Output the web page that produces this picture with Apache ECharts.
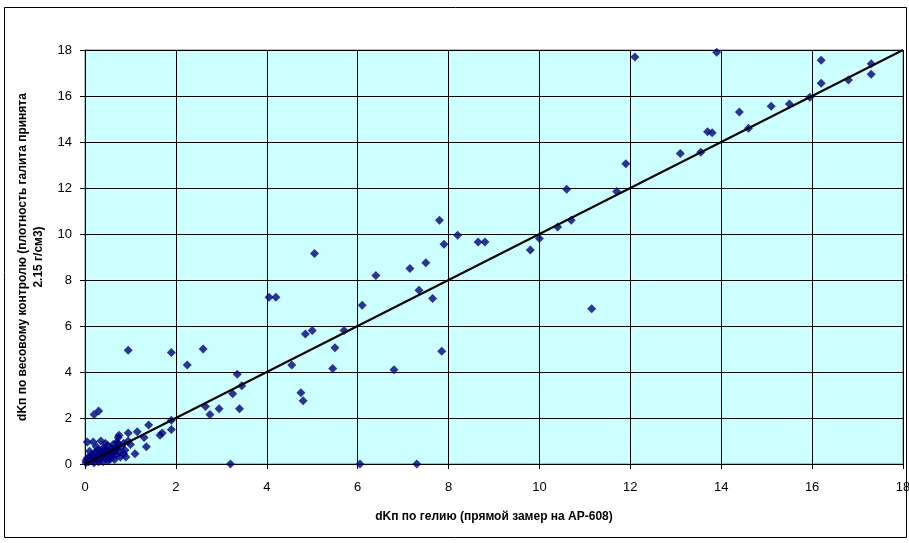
<!DOCTYPE html>
<html>
<head>
<meta charset="utf-8">
<script src="https://cdn.jsdelivr.net/npm/echarts@6/dist/echarts.min.js"></script>
<style>
  html, body { margin: 0; padding: 0; background: #fff; }
  #chart { width: 909px; height: 543px; }
</style>
</head>
<body>
<div id="chart"></div>
<script>
// dKп по гелию (x) / dKп по весовому контролю (y)
const pointsCluster = [
  [0.02, 0.15], [0.05, 0.25], [0.08, 0.1], [0.1, 0.3], [0.12, 0.2], [0.15, 0.4], [0.18, 0.15],
  [0.2, 0.35], [0.22, 0.5], [0.25, 0.25], [0.28, 0.6], [0.3, 0.4], [0.32, 0.2], [0.35, 0.55],
  [0.38, 0.3], [0.4, 0.7], [0.42, 0.45], [0.45, 0.25], [0.48, 0.6], [0.5, 0.8], [0.52, 0.35],
  [0.55, 0.5], [0.58, 0.7], [0.6, 0.3], [0.62, 0.85], [0.65, 0.55], [0.68, 0.4], [0.7, 0.65],
  [0.72, 0.9], [0.75, 0.5], [0.78, 0.3], [0.8, 0.75], [0.05, 0.96], [0.18, 0.96], [0.35, 1.0],
  [0.7, 0.96], [0.73, 1.15], [0.75, 1.25], [0.55, 0.2], [0.45, 0.9], [0.25, 0.75], [0.1, 0.55],
  [0.3, 0.1], [0.6, 0.6], [0.85, 0.9], [0.88, 0.6], [0.5, 0.15], [0.65, 0.2], [0.2, 0.05],
  [0.4, 0.1], [0.95, 1.0], [1.0, 0.85], [0.85, 0.45], [0.02, 0.05], [0.35, 0.45], [0.5, 0.55],
  [0.6, 0.45], [0.42, 0.6], [0.55, 0.35], [0.68, 0.7]
];
const pointsMain = [
  [0.9, 0.3], [1.1, 0.45], [1.35, 0.75], [1.3, 1.15], [0.95, 1.35], [1.15, 1.4], [1.4, 1.7],
  [1.65, 1.25], [1.7, 1.35], [1.9, 1.5], [1.9, 1.9], [0.2, 2.15], [0.3, 2.3],
  [0.95, 4.95], [1.9, 4.85], [2.6, 5.0], [2.25, 4.3], [2.65, 2.5], [2.95, 2.4], [2.75, 2.15],
  [3.4, 2.4], [3.25, 3.05], [3.45, 3.4], [3.35, 3.9], [3.2, 0.0],
  [4.05, 7.25], [4.2, 7.25], [4.55, 4.3], [4.75, 3.1], [4.8, 2.75], [4.85, 5.65], [5.0, 5.8],
  [5.05, 9.15], [5.45, 4.15], [5.5, 5.05], [5.7, 5.8], [6.05, 0.0], [6.1, 6.9], [6.4, 8.2],
  [6.8, 4.1], [7.15, 8.5], [7.3, 0.0], [7.35, 7.55], [7.5, 8.75], [7.65, 7.2], [7.8, 10.6],
  [7.85, 4.9], [7.9, 9.55], [8.2, 9.95], [8.65, 9.65], [8.8, 9.65],
  [9.8, 9.3], [10.0, 9.8], [10.4, 10.3], [10.6, 11.95], [10.7, 10.6], [11.15, 6.75],
  [11.7, 11.85], [11.9, 13.05], [12.1, 17.7], [13.1, 13.5], [13.55, 13.55], [13.7, 14.45],
  [13.8, 14.4], [13.9, 17.9], [14.4, 15.3], [14.6, 14.6], [15.1, 15.55], [15.5, 15.65],
  [15.95, 15.95], [16.2, 17.55], [16.2, 16.55], [16.8, 16.7], [17.3, 17.4], [17.3, 16.95]
];
const trendLine = [[0, 0], [18, 18]];
const axisMin = 0;
const axisMax = 18;
const axisStep = 2;

const chart = echarts.init(document.getElementById('chart'));
const font = 'Arial, "Liberation Sans", sans-serif';

chart.setOption({
  animation: false,
  textStyle: { fontFamily: font },
  graphic: [{
    type: 'rect',
    shape: { x: 4.5, y: 7.5, width: 902, height: 530 },
    style: { fill: 'none', stroke: '#000', lineWidth: 1 },
    z: 0
  }],
  grid: {
    left: 85, right: 6, top: 50, bottom: 79,
    outerBoundsMode: 'none',
    containLabel: false,
    show: true,
    backgroundColor: '#CCFFFF',
    borderColor: '#808080',
    borderWidth: 1
  },
  xAxis: {
    type: 'value',
    min: axisMin, max: axisMax, interval: axisStep,
    name: 'dKп по гелию (прямой замер на АР-608)',
    nameLocation: 'middle',
    nameGap: 47,
    nameTextStyle: { fontWeight: 'bold', fontSize: 12, color: '#000', fontFamily: font },
    axisLine: { lineStyle: { color: '#000', width: 1 } },
    axisTick: { show: true, inside: false, length: 5, lineStyle: { color: '#000' } },
    axisLabel: { color: '#000', fontSize: 13, margin: 17, fontFamily: font },
    splitLine: { show: true, lineStyle: { color: '#000', width: 1 } }
  },
  yAxis: {
    type: 'value',
    min: axisMin, max: axisMax, interval: axisStep,
    name: 'dKп по весовому контролю (плотность галита принята\n2.15 г/см3)',
    nameLocation: 'middle',
    nameRotate: 90,
    nameGap: 38,
    nameTextStyle: { fontWeight: 'bold', fontSize: 12, color: '#000', lineHeight: 16, align: 'center', fontFamily: font },
    axisLine: { show: true, lineStyle: { color: '#000', width: 1 } },
    axisTick: { show: true, inside: false, length: 5, lineStyle: { color: '#000' } },
    axisLabel: { color: '#000', fontSize: 13, margin: 13, fontFamily: font },
    splitLine: { show: true, lineStyle: { color: '#000', width: 1 } }
  },
  series: [
    {
      type: 'scatter',
      data: pointsCluster.concat(pointsMain),
      symbol: 'diamond',
      symbolSize: 9,
      itemStyle: { color: '#000080' },
      z: 3
    },
    {
      type: 'line',
      data: trendLine,
      symbol: 'none',
      lineStyle: { color: '#000', width: 2 },
      z: 4
    }
  ]
});
</script>
</body>
</html>
